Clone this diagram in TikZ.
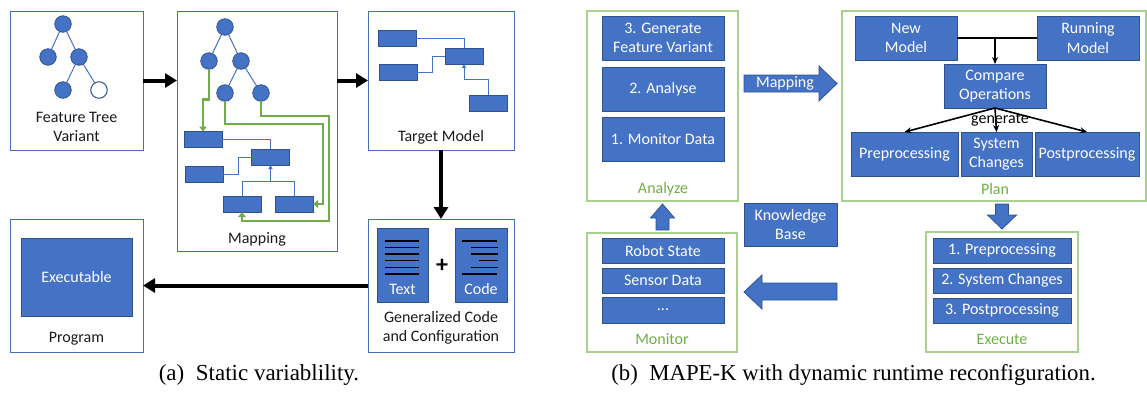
\documentclass[tikz,border=0pt]{standalone}
\usepackage{fontspec}
\setmainfont{Carlito}
\newfontfamily\capfont{Liberation Serif}
\usetikzlibrary{arrows.meta,calc}
\definecolor{oblue}{HTML}{4472C4}
\definecolor{oborder}{HTML}{2F528F}
\definecolor{pbord}{HTML}{4A6EB3}
\definecolor{ogreen}{HTML}{70AD47}
\definecolor{lgreen}{HTML}{A9D18E}
\definecolor{dtext}{HTML}{1A1A1A}
\begin{document}
\begin{tikzpicture}[x=1pt,y=-1pt,
  every node/.style={font=\fontsize{16}{19.5}\selectfont, inner sep=0pt, outer sep=0pt},
  sz/.style 2 args={minimum width=#1pt, minimum height=#2pt},
  abox/.style={draw=pbord, line width=1pt, rectangle},
  gbox/.style={draw=lgreen, line width=1.2pt, rectangle},
  brect/.style={fill=oblue, draw=oborder, line width=0.8pt, rectangle, text=white, align=center},
  circ/.style={circle, fill=oblue, draw=oborder, line width=0.8pt, minimum size=16.5pt},
  wcirc/.style={circle, fill=white, draw=oborder, line width=1pt, minimum size=16.5pt},
  tline/.style={draw=oblue, line width=1pt},
  tarrow/.style={tline, -{Triangle[length=4pt,width=4pt]}},
  garrow/.style={draw=ogreen, line width=2.6pt, -{Triangle[length=5pt,width=7.5pt]}},
  bigarrow/.style={draw=black, line width=4pt, -{Triangle[length=12pt,width=14pt]}},
  parrow/.style={draw=black, line width=1.6pt, -{Stealth[length=7pt,width=6pt]}},
  lbl/.style={text=dtext, align=center},
  glbl/.style={text=ogreen, align=center},
  blk/.style={fill=oblue, draw=oborder, line width=0.8pt},
  docline/.style={draw=black, line width=1.2pt}
]
\useasboundingbox (0,0) rectangle (1147,392);

% ---------------- Panel (a) ----------------
% Feature tree variant
\node[abox, sz={133}{139}] (ft) at (76.5,80.5) {};
\node[circ] (r1) at (63,24) {};
\node[circ] (a1) at (48,57) {};
\node[circ] (b1) at (79,57) {};
\node[circ] (c1) at (63,90) {};
\node[wcirc] (d1) at (99,90) {};
\draw[tline] (r1) -- (a1) (r1) -- (b1) (b1) -- (c1) (b1) -- (d1);
\node[lbl] (ftl) at (76.5,127) {Feature Tree\\Variant};

% Mapping
\node[abox, sz={160}{240}] (mp) at (257,131) {};
\node[circ] (r2) at (225,27) {};
\node[circ] (a2) at (209,61) {};
\node[circ] (b2) at (241,61) {};
\node[circ] (c2) at (225,93) {};
\node[circ] (d2) at (261,93) {};
\draw[tline] (r2) -- (a2) (r2) -- (b2) (b2) -- (c2) (b2) -- (d2);
\node[brect, sz={38}{16}] (rA) at (203,139.5) {};
\node[brect, sz={38}{16}] (rB) at (270.5,157) {};
\node[brect, sz={38}{16}] (rC) at (204,174) {};
\node[brect, sz={38}{16}] (rD) at (242,204) {};
\node[brect, sz={38}{16}] (rE) at (294,204) {};
\draw[tline] (rA.east) -| (rB.north);
\draw[tline] (rC.east) -- ++(15,0) |- (rB.west);
\draw[tline] (rD.north) -- ++(0,-15) coordinate (jD) -| (rE.north);
\draw[tarrow] (jD -| rB.south) -- (rB.south);
\draw[garrow] (a2.south) -- ++(0,30) -| (rA.north);
\draw[garrow] (c2.south) |- (323,124) |- (rE.east);
\draw[garrow] (d2.south) |- (329,116) -- (329,221) -| (rD.south);
\node[lbl] (mpl) at (257,239) {Mapping};

% Target model
\node[abox, sz={146}{139}] (tm) at (441,80.5) {};
\node[brect, sz={38}{16}] (t1) at (397,38) {};
\node[brect, sz={38}{16}] (t2) at (464,56) {};
\node[brect, sz={38}{16}] (t3) at (398,72.5) {};
\node[brect, sz={38}{16}] (t4) at (488,103) {};
\draw[tline] (t1.east) -| (t2.north);
\draw[tline] (t3.east) -- ++(15,0) |- (t2.west);
\draw[tarrow] (t4.north) -- ++(0,-16) -| (t2.south);
\node[lbl] (tml) at (441,137) {Target Model};

% Generalized code
\node[abox, sz={146}{133}] (gc) at (441,285.5) {};
\node[brect, sz={51}{74}] (txt) at (402.5,265) {};
\node[brect, sz={52}{74}] (cod) at (481,265) {};
\foreach \yy in {241,247.7,254,260.7,267.3,274}
  \draw[docline] (385,\yy) -- (419,\yy);
\draw[docline] (462,241) -- (497,241);
\draw[docline] (471,247.7) -- (498,247.7);
\draw[docline] (471,254) -- (498,254);
\draw[docline] (479,260.7) -- (498,260.7);
\draw[docline] (471,267.3) -- (498,267.3);
\draw[docline] (462,274) -- (497,274);
\node[text=white] (txtl) at (402.5,289) {Text};
\node[text=white] (codl) at (481,289) {Code};
\node[font=\fontsize{24}{24}\selectfont\bfseries] (plus) at (442,266) {+};
\node[lbl] (gcl) at (441,328) {Generalized Code\\and Configuration};

% Program
\node[abox, sz={133}{133}] (pg) at (76.5,285.5) {};
\node[brect, sz={111}{78}] (ex) at (76.5,277) {Executable};
\node[lbl] (pgl) at (76.5,339) {Program};

% big arrows
\draw[bigarrow] (ft.east) -- (ft.east -| mp.west);
\draw[bigarrow] (tm.west -| mp.east) -- (tm.west);
\draw[bigarrow] (tm.south) -- (gc.north);
\draw[bigarrow] (gc.west) -- (gc.west -| pg.east);

\node[font=\capfont\fontsize{23}{26}\selectfont] (capa) at (259,375) {(a)\enspace Static variablility.};

% ---------------- Panel (b) ----------------
% Analyze
\node[gbox, sz={151}{190}] (an) at (662.5,106) {};
\node[brect, sz={122}{44}] (an3) at (663,38) {3. Generate\\Feature Variant};
\node[brect, sz={122}{44}] (an2) at (663,89) {2. Analyse};
\node[brect, sz={122}{44}] (an1) at (663,139) {1. Monitor Data};
\node[glbl] (anl) at (663,189) {Analyze};

% Mapping block arrow
\filldraw[blk] (744,75) -- (819,75) -- (819,66) -- (837,83.5) -- (819,101) -- (819,92) -- (744,92) -- cycle;
\node[text=white] (mapl) at (785,83) {Mapping};

% Plan
\node[gbox, sz={304}{190}] (pl) at (994,106) {};
\node[brect, sz={102}{44}] (nm) at (906,38) {New\\Model};
\node[brect, sz={102}{44}] (rm) at (1088,38) {Running\\Model};
\node[brect, sz={102}{44}] (co) at (995,86) {Compare\\Operations};
\node[brect, sz={107}{44}] (pre) at (904.5,154) {Preprocessing};
\node[brect, sz={71}{44}] (sc) at (996.5,154) {System\\Changes};
\node[brect, sz={104}{44}] (post) at (1087,154) {Postprocessing};
\draw[draw=black, line width=1.6pt] (nm.east) -- (rm.west);
\draw[parrow] (nm.east -| co.north) -- (co.north);
\draw[parrow] (co.south) -- (pre.north);
\draw[parrow] (co.south) -- (sc.north);
\draw[parrow] (co.south) -- (post.north);
\node[text=black] (gen) at (1000,120) {generate};
\node[glbl] (pll) at (995,189) {Plan};

% Knowledge base
\node[brect, sz={93}{43}] (kb) at (790.5,224.5) {Knowledge\\Base};

% Monitor
\node[gbox, sz={150}{119}] (mo) at (662,292.5) {};
\node[brect, sz={122}{25}] (mo1) at (663,250.5) {Robot State};
\node[brect, sz={122}{25}] (mo2) at (663,280.5) {Sensor Data};
\node[brect, sz={122}{26}] (mo3) at (663,310) {...};
\node[glbl] (mol) at (662,339) {Monitor};

% up arrow
\filldraw[blk] (656,230) -- (656,218) -- (650.5,218) -- (662.5,204) -- (674.5,218) -- (669,218) -- (669,230) -- cycle;
% down arrow
\filldraw[blk] (995.5,204) -- (1008.5,204) -- (1008.5,215) -- (1016.5,215) -- (1002,229) -- (987.5,215) -- (995.5,215) -- cycle;
% left arrow
\filldraw[blk] (837,283) -- (762,283) -- (762,275) -- (744,292) -- (762,309) -- (762,300) -- (837,300) -- cycle;

% Execute
\node[gbox, sz={152}{120}] (exb) at (1002,292) {};
\node[brect, sz={138}{25}] (ex1) at (1002,250.5) {1. Preprocessing};
\node[brect, sz={138}{25}] (ex2) at (1002,280.5) {2. System Changes};
\node[brect, sz={138}{25}] (ex3) at (1002,310.5) {3. Postprocessing};
\node[glbl] (exl) at (1002,339) {Execute};

\node[font=\capfont\fontsize{22.8}{26}\selectfont] (capb) at (853.5,375) {(b)\enspace MAPE-K with dynamic runtime reconfiguration.};
\end{tikzpicture}
\end{document}
